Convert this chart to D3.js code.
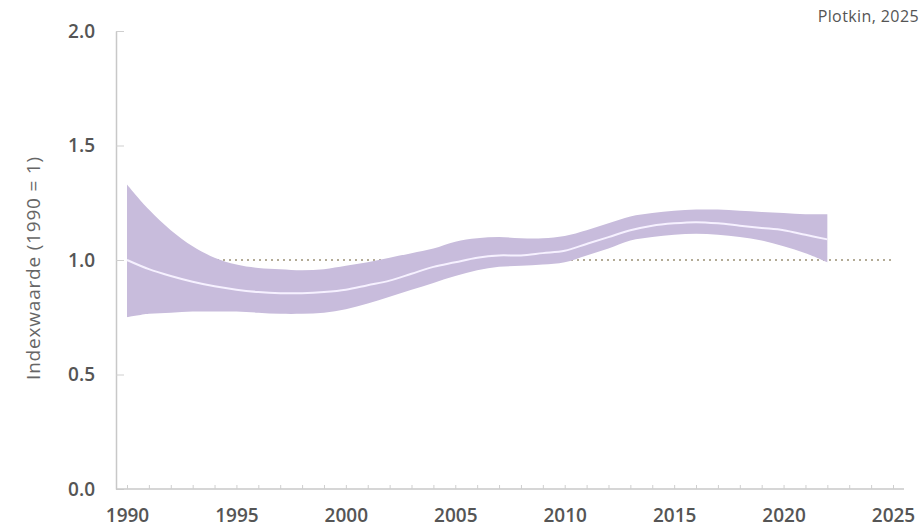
<!DOCTYPE html>
<html>
<head>
<meta charset="utf-8">
<title>Indexwaarde</title>
<script src="https://cdn.jsdelivr.net/npm/d3@7"></script>
<style>
  body { margin: 0; background: #fff; }
  text { font-family: "Open Sans", sans-serif; }
</style>
</head>
<body>
<div id="chart"></div>
<script>
// data, index 1990 = 1
var years = d3.range(1990, 2023);
var mean = [1.00, 0.96, 0.93, 0.905, 0.885, 0.87, 0.86, 0.855, 0.855, 0.86, 0.87,
            0.89, 0.91, 0.94, 0.97, 0.99, 1.01, 1.02, 1.02, 1.03, 1.04,
            1.07, 1.10, 1.13, 1.15, 1.16, 1.165, 1.16, 1.15, 1.14, 1.13, 1.11, 1.09];
var upper = [1.33, 1.22, 1.13, 1.06, 1.01, 0.98, 0.965, 0.96, 0.955, 0.96, 0.975,
             0.99, 1.01, 1.03, 1.05, 1.08, 1.095, 1.10, 1.095, 1.095, 1.105,
             1.13, 1.16, 1.19, 1.205, 1.215, 1.22, 1.22, 1.215, 1.21, 1.205, 1.20, 1.20];
var lower = [0.75, 0.765, 0.77, 0.775, 0.775, 0.775, 0.77, 0.765, 0.765, 0.77, 0.785,
             0.81, 0.84, 0.87, 0.90, 0.93, 0.955, 0.97, 0.975, 0.98, 0.99,
             1.02, 1.05, 1.085, 1.10, 1.11, 1.115, 1.11, 1.10, 1.085, 1.06, 1.03, 0.99];
var yTicks = [0, 0.5, 1.0, 1.5, 2.0];
var baseline = 1.0;

var width = 921, height = 529;

var svg = d3.select("#chart").append("svg")
    .attr("width", width)
    .attr("height", height);

var x = d3.scaleLinear().domain([1990, 2025]).range([127, 893]);
var y = d3.scaleLinear().domain([0, 2]).range([489, 31]);
var axisX = 116;

var data = years.map(function (yr, i) {
  return { year: yr, mean: mean[i], lo: lower[i], hi: upper[i] };
});

// reference line at 1.0
svg.append("line")
    .attr("x1", x(1990)).attr("x2", x(2025))
    .attr("y1", y(baseline)).attr("y2", y(baseline))
    .attr("stroke", "#b3ab96")
    .attr("stroke-width", 2)
    .attr("stroke-dasharray", "2,4");

// band
var area = d3.area()
    .x(function (d) { return x(d.year); })
    .y0(function (d) { return y(d.lo); })
    .y1(function (d) { return y(d.hi); })
    .curve(d3.curveCatmullRom);

svg.append("path")
    .datum(data)
    .attr("d", area)
    .attr("fill", "#c8bcdc");

// mean line
var line = d3.line()
    .x(function (d) { return x(d.year); })
    .y(function (d) { return y(d.mean); })
    .curve(d3.curveCatmullRom);

svg.append("path")
    .datum(data)
    .attr("d", line)
    .attr("fill", "none")
    .attr("stroke", "#f6f1ff")
    .attr("stroke-width", 2);

// y axis
var yAxis = d3.axisLeft(y)
    .tickValues(yTicks)
    .tickFormat(d3.format(".1f"))
    .tickSizeInner(-8)
    .tickSizeOuter(0)
    .tickPadding(21);

var gy = svg.append("g")
    .attr("transform", "translate(" + axisX + ",0)")
    .call(yAxis);

// x axis
var xAxis = d3.axisBottom(x)
    .tickValues(d3.range(1990, 2026))
    .tickFormat(function (d) { return d % 5 === 0 ? d : ""; })
    .tickSizeInner(-4)
    .tickSizeOuter(0)
    .tickPadding(20);

var gx = svg.append("g")
    .attr("transform", "translate(0," + y(0) + ")")
    .call(xAxis);

gx.select(".domain").attr("d", "M" + axisX + ",0H904");

[gx, gy].forEach(function (g) {
  g.select(".domain").attr("stroke", "#c8c8c8").attr("stroke-width", 1.5);
  g.selectAll(".tick line").attr("stroke", "#cfcfcf");
  g.selectAll(".tick text")
      .attr("fill", "#555")
      .style("font-size", "19px")
      .style("font-weight", 600);
});

// y label
svg.append("text")
    .attr("transform", "translate(40," + 268 + ") rotate(-90)")
    .attr("text-anchor", "middle")
    .attr("fill", "#666")
    .style("font-size", "19px")
    .style("letter-spacing", "0.8px")
    .text("Indexwaarde (1990 = 1)");

// source
svg.append("text")
    .attr("x", 919)
    .attr("y", 22)
    .attr("text-anchor", "end")
    .attr("fill", "#555")
    .style("font-size", "16px")
    .style("letter-spacing", "0.4px")
    .text("Plotkin, 2025");
</script>
</body>
</html>
